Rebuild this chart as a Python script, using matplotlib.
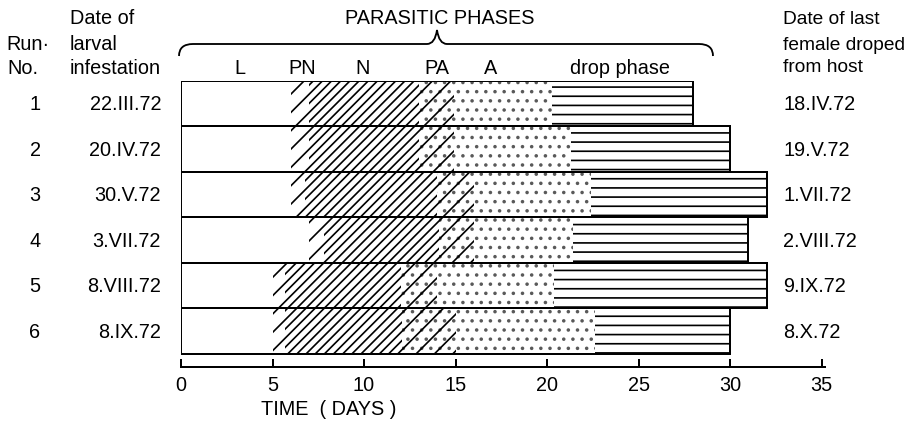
import matplotlib
matplotlib.use("Agg")
import matplotlib.pyplot as plt
from matplotlib.path import Path
from matplotlib.patches import PathPatch

plt.rcParams['font.family'] = ['Liberation Sans', 'DejaVu Sans']
plt.rcParams['hatch.linewidth'] = 1.1

# ---- data -------------------------------------------------------------
runs = [1, 2, 3, 4, 5, 6]
infestation_dates = ["22.III.72", "20.IV.72", "30.V.72", "3.VII.72", "8.VIII.72", "8.IX.72"]
last_drop_dates = ["18.IV.72", "19.V.72", "1.VII.72", "2.VIII.72", "9.IX.72", "8.X.72"]

# phase start days (L starts at day 0) and end of drop phase
pn_start = [6.0, 6.0, 6.0, 7.0, 5.0, 5.0]
n_start = [7.0, 7.0, 6.8, 7.8, 5.7, 5.7]
pa_start = [13.0, 13.0, 14.0, 14.1, 12.0, 12.1]
a_start = [14.9, 14.9, 16.0, 16.0, 14.0, 15.0]
drop_start = [20.3, 21.3, 22.4, 21.4, 20.4, 22.6]
drop_end = [28.0, 30.0, 32.0, 31.0, 32.0, 30.0]

phase_labels = ["L", "PN", "N", "PA", "A", "drop phase"]
xticks = [0, 5, 10, 15, 20, 25, 30, 35]

# ---- figure -----------------------------------------------------------
W, H, DPI = 913, 441, 110
fig = plt.figure(figsize=(W / DPI, H / DPI), dpi=DPI)


def fx(px):
    return px / W


def fy(py):
    return 1 - py / H


ax_left, ax_right, ax_top, ax_bot = 181, 825, 81.7, 368
ax = fig.add_axes([fx(ax_left), fy(ax_bot), fx(ax_right - ax_left), fy(ax_top) - fy(ax_bot)])

ppd = 18.3  # pixels per day
xmax = (ax_right - ax_left) / ppd
bar_px = (355 - ax_top) / 6
ybot = 6.5 + (ax_bot - 355) / bar_px
ax.set_xlim(0, xmax)
ax.set_ylim(ybot, 0.5)


def span(starts, ends):
    return [e - s for s, e in zip(starts, ends)]


# dotted background for the PA and A phases (grey dots)
ax.barh(runs, span(pa_start, drop_start), left=pa_start, height=1.0, color="white",
        edgecolor="0.35", linewidth=0, hatch="..", zorder=2)

# line-hatched phases
segments = [
    (pn_start, n_start, "//", True),
    (n_start, pa_start, "////", True),
    (pa_start, a_start, "//", False),
    (drop_start, drop_end, "--", True),
]
for starts, ends, hatch, filled in segments:
    ax.barh(runs, span(starts, ends), left=starts, height=1.0, color="white",
            fill=filled, edgecolor="black", linewidth=0, hatch=hatch, zorder=2.5)

# outline of each run
ax.barh(runs, drop_end, left=0, height=1.0, fill=False,
        edgecolor="black", linewidth=1.3, zorder=3)

for s in ["left", "top", "right"]:
    ax.spines[s].set_visible(False)
ax.spines["bottom"].set_linewidth(1.3)
ax.set_yticks([])
ax.set_xticks(xticks)
ax.tick_params(axis="x", direction="in", length=5, width=1.3, pad=5, labelsize=13)

fs = 13
# row labels
for r, d0, d1 in zip(runs, infestation_dates, last_drop_dates):
    ax.text(-0.2267, r, str(r), transform=ax.get_yaxis_transform(),
            ha="center", va="center", fontsize=fs)
    ax.text(-0.031, r, d0, transform=ax.get_yaxis_transform(),
            ha="right", va="center", fontsize=fs)
    ax.text(32.9, r, d1, ha="left", va="center", fontsize=fs, clip_on=False)

# header texts
fig.text(fx(6), fy(45), "Run·", ha="left", va="center", fontsize=fs)
fig.text(fx(7), fy(68), "No.", ha="left", va="center", fontsize=fs)
fig.text(fx(70), fy(18), "Date of", ha="left", va="center", fontsize=fs)
fig.text(fx(70), fy(45), "larval", ha="left", va="center", fontsize=fs)
fig.text(fx(70), fy(68), "infestation", ha="left", va="center", fontsize=fs)
fig.text(fx(440), fy(18), "PARASITIC PHASES", ha="center", va="center", fontsize=fs)
fig.text(fx(783), fy(20), "Date of last", ha="left", va="center", fontsize=12.5)
fig.text(fx(783), fy(45), "female droped", ha="left", va="center", fontsize=12.5)
fig.text(fx(783), fy(68), "from host", ha="left", va="center", fontsize=12.5)

label_px = [240, 302, 363, 437, 491, 620]
for lab, px in zip(phase_labels, label_px):
    fig.text(fx(px), fy(68), lab, ha="center", va="center", fontsize=fs)

fig.text(fx(329), fy(410), "TIME  ( DAYS )", ha="center", va="center", fontsize=fs)

# curly brace over the phase labels
bx0, bx1, bxm = 179, 713, 437
by_tip, by_line, by_peak = 57, 45, 31
verts_px = [
    (bx0, by_tip), (bx0, by_line), (bx0 + 14, by_line),
    (bxm - 10, by_line),
    (bxm - 2, by_line), (bxm, by_peak),
    (bxm + 2, by_line), (bxm + 10, by_line),
    (bx1 - 14, by_line),
    (bx1, by_line), (bx1, by_tip),
]
codes = [Path.MOVETO, Path.CURVE3, Path.CURVE3,
         Path.LINETO,
         Path.CURVE3, Path.CURVE3,
         Path.CURVE3, Path.CURVE3,
         Path.LINETO,
         Path.CURVE3, Path.CURVE3]
verts = [(fx(x), fy(y)) for x, y in verts_px]
brace = PathPatch(Path(verts, codes), transform=fig.transFigure, fill=False,
                  edgecolor="black", linewidth=1.2)
fig.patches.append(brace)

fig.savefig("out.png", dpi=DPI)
